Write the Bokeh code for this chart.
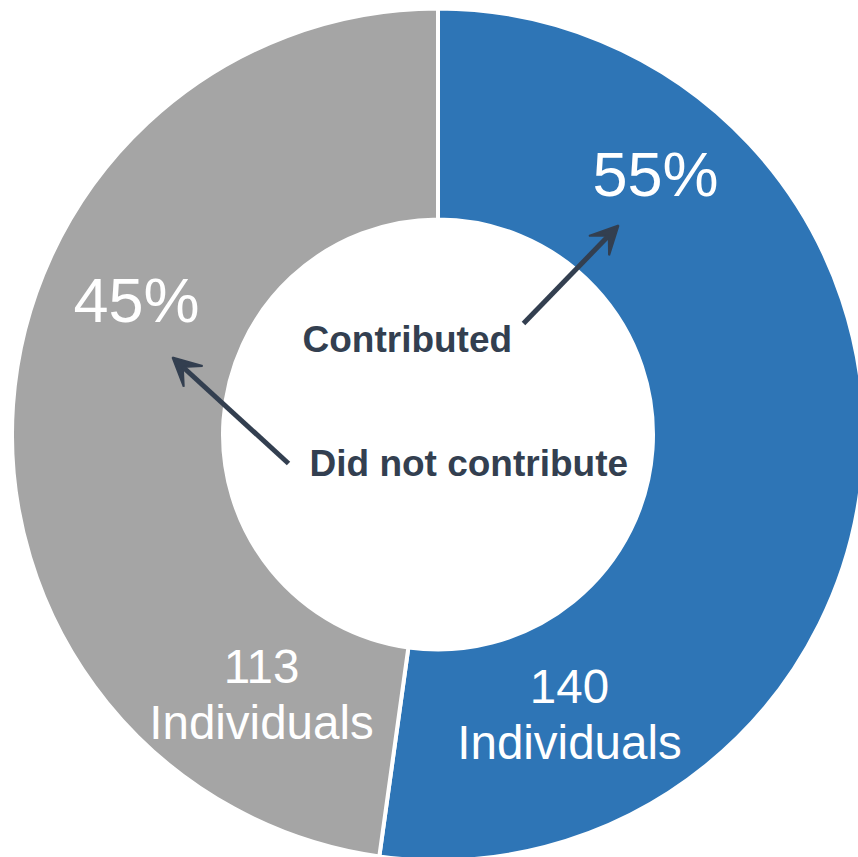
import math
from bokeh.plotting import figure
from bokeh.models import ColumnDataSource, Arrow, VeeHead
from bokeh.core.properties import value
from bokeh.embed import file_html
from bokeh.resources import INLINE

# ---- data ----
categories = ["Contributed", "Did not contribute"]
individuals = [140, 113]
percent_labels = ["55%", "45%"]
drawn_share = [52.2, 47.8]          # share of the ring as drawn in the picture (%)
colors = ["#2E75B6", "#A5A5A5"]
count_labels = [str(v) for v in individuals]
unit_label = "Individuals"

W, H = 858, 857
p = figure(width=W, height=H, x_range=(0, W), y_range=(0, H),
           output_backend="svg", toolbar_location=None, min_border=0)
p.axis.visible = False
p.grid.visible = False
p.outline_line_color = None
p.background_fill_color = "white"

cx, cy = 437.5, 423
r_out, r_in = 426, 215

# angles: start at top, go clockwise
starts, ends = [], []
a = math.pi / 2
for s in drawn_share:
    sweep = s / 100 * 2 * math.pi
    ends.append(a)
    starts.append(a - sweep)
    a -= sweep

src = ColumnDataSource(dict(start=starts, end=ends, color=colors, cat=categories))
p.annular_wedge(x=cx, y=cy, inner_radius=r_in, outer_radius=r_out,
                start_angle="start", end_angle="end", color="color",
                line_color="white", line_width=4, source=src)

font = value("Liberation Sans")
dark = "#333F50"

# percent labels
p.text(x=[655, 136], y=[684, 558], text=percent_labels, text_color="white",
       text_font=font, text_font_size="63px", text_align="center",
       text_baseline="alphabetic")

# counts
p.text(x=[569, 261], y=[171, 191], text=count_labels, text_color="white",
       text_font=font, text_font_size="47.5px", text_align="center",
       text_baseline="alphabetic")
p.text(x=[569, 261], y=[115, 135], text=[unit_label, unit_label], text_color="white",
       text_font=font, text_font_size="47.5px", text_align="center",
       text_baseline="alphabetic")

# category labels inside
p.text(x=[302, 309], y=[518, 394], text=categories, text_color=dark,
       text_font=font, text_font_size="37px", text_font_style="bold",
       text_align="left", text_baseline="alphabetic")

# arrows
for xs, ys, xe, ye in [(523, 534, 618, 632), (288, 394, 172, 500)]:
    p.add_layout(Arrow(end=VeeHead(size=28, fill_color=dark, line_color=dark, line_width=2),
                       x_start=xs, y_start=ys, x_end=xe, y_end=ye,
                       line_color=dark, line_width=5))

open("out.html", "w").write(file_html(p, INLINE))
